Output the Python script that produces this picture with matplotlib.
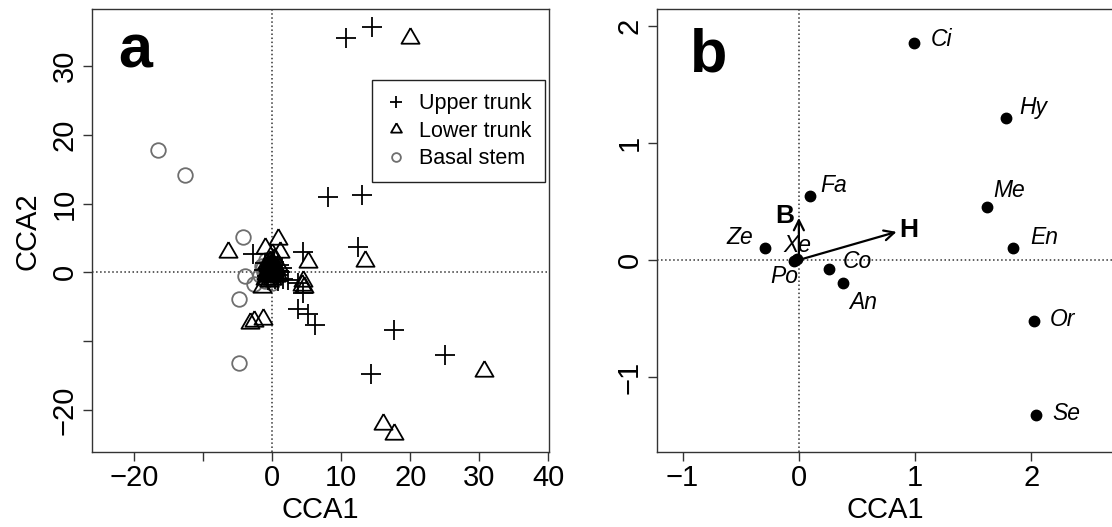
import matplotlib
matplotlib.use("Agg")
import matplotlib.pyplot as plt
from matplotlib.path import Path

plt.rcParams['font.family'] = ['Liberation Sans', 'DejaVu Sans']

# panel a: sample scores
upper_x = [10.7, 14.5, 8.1, 13.0, 12.5, 4.5, -2.8, 3.8, 5.2, 6.2, 17.7, 25.0, 14.3,
           2.3, 3.8, 4.5, 1.4, 0.8, -0.4, 0.3, 1.6, -0.8, 0.2, -1.2, 0.6,
           -0.2, 1.0, -0.6, 0.4, 1.2, -1.0, 0.1, 0.9]
upper_y = [34.1, 35.7, 10.9, 11.3, 3.7, 3.0, 2.6, -5.3, -6.1, -7.7, -8.4, -12.0, -14.7,
           -1.1, -1.5, -3.0, 0.6, -0.4, 0.8, 1.5, -0.9, -0.6, -0.2, 0.3, 0.2,
           1.1, 1.0, -1.1, -0.9, 0.0, 1.4, 0.7, -1.3]

lower_x = [20.0, -6.4, 0.9, -1.0, 1.1, 5.2, 13.4, 4.3, 4.5, 4.6, -1.5, -2.7, -1.4, -3.2,
           30.7, 16.1, 17.6, 0.0, -0.3, 0.4, -0.8, 0.2, -0.5, 0.7, -0.1, -1.1, 0.3, -0.6,
           -0.2, 0.5, -0.4, 0.1, -0.9, 0.6, 0.0, -0.7, 0.3, -0.2, 0.8, -0.5]
lower_y = [34.1, 3.0, 4.9, 3.6, 3.0, 1.5, 1.7, -1.8, -1.3, -2.1, -2.2, -7.1, -6.8, -7.3,
           -14.4, -22.1, -23.5, 2.6, 1.6, 0.9, 0.2, -0.6, -1.2, -0.1, 0.3, -0.9, 2.0, 0.9,
           -0.3, 0.5, 0.4, 1.2, -0.2, -0.5, -0.9, 1.3, 0.1, 0.7, 1.0, -0.6]

basal_x = [-16.5, -12.7, -4.2, -4.0, -4.8, -4.8, -2.7, -1.4, -0.6, 0.2, -1.0, 0.5,
           -0.3, -1.7, 0.0, -0.9, -0.4, -1.2, 0.3, -0.7, -0.1, -1.5]
basal_y = [17.8, 14.2, 5.1, -0.5, -3.8, -13.1, -1.7, 0.6, -0.3, 0.4, -1.2, -0.8,
           1.1, -0.4, -1.5, 1.8, 0.2, 0.0, -0.2, -0.8, 0.6, 0.9]

# panel b: species scores and environmental vectors
species = ['Ci', 'Hy', 'Me', 'En', 'Or', 'Se', 'Fa', 'Ze', 'Xe', 'Po', 'Co', 'An']
species_x = [0.99, 1.78, 1.62, 1.84, 2.02, 2.04, 0.10, -0.29, -0.02, -0.04, 0.26, 0.38]
species_y = [1.85, 1.21, 0.45, 0.10, -0.52, -1.32, 0.55, 0.10, 0.01, -0.01, -0.08, -0.20]

env_names = ['H', 'B']
env_x = [0.84, 0.0]
env_y = [0.24, 0.36]

# label offsets (points) for species names
label_off = {'Ci': (19.5, 2.5), 'Hy': (19.5, 7.6), 'Me': (15.5, 11.8), 'En': (22.6, 7.6),
             'Or': (20.5, 0.8), 'Se': (22, 0.8), 'Fa': (17, 7.6), 'Ze': (-18, 7.6),
             'Xe': (0.8, 9.3), 'Po': (-7, -11), 'Co': (20, 5.9), 'An': (14.5, -13.5)}
env_off = {'H': (9, 1.3), 'B': (-10.5, 1.3)}

tri = Path([(0, 0.577), (-0.5, -0.289), (0.5, -0.289), (0, 0.577)])

W, H = 1112, 527
fig = plt.figure(figsize=(W / 100, H / 100), dpi=100)
ax1 = fig.add_axes([92 / W, 1 - 452 / H, 457 / W, 442.6 / H])
ax2 = fig.add_axes([657 / W, 1 - 452 / H, 457 / W, 442.6 / H])

frame_col = '#333333'
for ax in (ax1, ax2):
    for s in ax.spines.values():
        s.set_color(frame_col)
        s.set_linewidth(1.0)
    ax.tick_params(length=6.5, width=1.0, color=frame_col, labelsize=21, pad=2)
    ax.tick_params(axis='y', labelrotation=90, pad=3)
    ax.axhline(0, color='#333333', ls=':', lw=1.1, zorder=1)
    ax.axvline(0, color='#333333', ls=':', lw=1.1, zorder=1)

# ---- panel a
ax1.plot(basal_x, basal_y, 'o', ms=10.5, mfc='none', mec='#6e6e6e', mew=1.3,
         ls='none', label='Basal stem', zorder=2)
ax1.plot(lower_x, lower_y, marker=tri, ms=15, mfc='none', mec='black', mew=1.3,
         ls='none', label='Lower trunk', zorder=3)
ax1.plot(upper_x, upper_y, '+', ms=14.5, mec='black', mew=1.3,
         ls='none', label='Upper trunk', zorder=4)
ax1.set_xlim(-26.1, 40.1)
ax1.set_ylim(-26.1, 38.2)
ax1.set_xticks([-20, -10, 0, 10, 20, 30, 40])
ax1.set_xticklabels(['\u221220', '', '0', '10', '20', '30', '40'])
ax1.set_yticks([-20, -10, 0, 10, 20, 30])
ax1.set_yticklabels(['\u221220', '', '0', '10', '20', '30'])
ax1.set_xlabel('CCA1', fontsize=21, labelpad=3)
ax1.set_ylabel('CCA2', fontsize=21, labelpad=7)
ax1.text(0.057, 0.868, 'a', transform=ax1.transAxes, fontsize=44,
         fontweight='bold', va='baseline', ha='left')

handles, labels = ax1.get_legend_handles_labels()
order = [2, 1, 0]
leg = ax1.legend([handles[i] for i in order], [labels[i] for i in order],
                 loc='upper right', bbox_to_anchor=(0.991, 0.84), borderaxespad=0,
                 fontsize=15.5, markerscale=0.6, fancybox=False, framealpha=1,
                 edgecolor='#222222', handlelength=1.0, handletextpad=0.6,
                 labelspacing=0.3, borderpad=0.6)
leg.get_frame().set_linewidth(1.0)

# ---- panel b
ax2.plot(species_x, species_y, 'o', ms=7.5, color='black', ls='none', zorder=3)
for name, x, y in zip(species, species_x, species_y):
    ax2.annotate(name, (x, y), xytext=label_off[name], textcoords='offset points',
                 ha='center', va='center', fontsize=16.5, style='italic')
for name, x, y in zip(env_names, env_x, env_y):
    ax2.annotate('', xy=(x, y), xytext=(0, 0),
                 arrowprops=dict(arrowstyle='->', lw=1.6, color='black',
                                 shrinkA=0, shrinkB=0, mutation_scale=18))
    ax2.annotate(name, (x, y), xytext=env_off[name], textcoords='offset points',
                 ha='center', va='center', fontsize=19, fontweight='bold')
ax2.set_xlim(-1.22, 2.71)
ax2.set_ylim(-1.64, 2.14)
ax2.set_xticks([-1, 0, 1, 2])
ax2.set_xticklabels(['\u22121', '0', '1', '2'])
ax2.set_yticks([-1, 0, 1, 2])
ax2.set_yticklabels(['\u22121', '0', '1', '2'])
ax2.set_xlabel('CCA1', fontsize=21, labelpad=3)
ax2.text(0.072, 0.859, 'b', transform=ax2.transAxes, fontsize=44,
         fontweight='bold', va='baseline', ha='left')

for ax in (ax1, ax2):
    for lab in ax.get_yticklabels():
        lab.set_va('center')

fig.savefig('out.png', dpi=100)
